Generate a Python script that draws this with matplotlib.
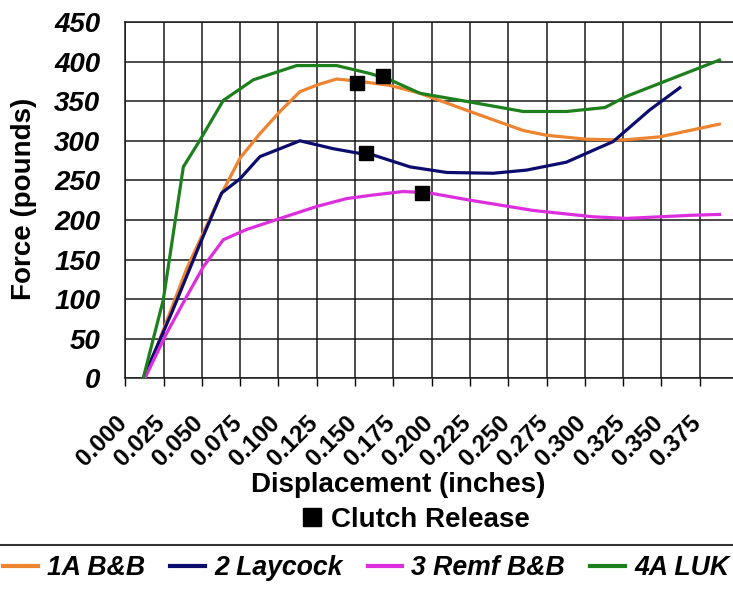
import numpy as np
import matplotlib
matplotlib.use("Agg")
import matplotlib.pyplot as plt
from matplotlib.lines import Line2D
from matplotlib.transforms import ScaledTranslation

plt.rcParams['font.family'] = ['Liberation Sans', 'DejaVu Sans']

# --- data (displacement in inches, force in pounds) ---
series_names = ["1A B&B", "2 Laycock", "3 Remf B&B", "4A LUK"]
series_colors = ["#EC8430", "#0C0C6E", "#DD2EDD", "#1D801D"]

x_1a = [0.0128, 0.040, 0.062, 0.0749, 0.0879, 0.101, 0.114, 0.126, 0.138, 0.1486,
        0.1532, 0.1728, 0.1924, 0.225, 0.2598, 0.275, 0.301, 0.325, 0.349, 0.3878]
y_1a = [0, 138, 230, 278, 309, 337, 362, 371, 378, 376,
        375, 370, 360, 337, 313, 307, 302, 301, 305, 321]

x_2 = [0.0117, 0.031, 0.0488, 0.0629, 0.0749, 0.0879, 0.114, 0.1358, 0.1532, 0.1619,
       0.186, 0.2098, 0.2402, 0.262, 0.288, 0.3055, 0.3185, 0.3424, 0.362]
y_2 = [0, 86, 170, 234, 252, 280, 300, 290, 284, 282,
       267, 260, 259, 263, 273, 288, 299, 339, 367]

x_3 = [0.0128, 0.027, 0.040, 0.051, 0.064, 0.0792, 0.1012, 0.1249, 0.1445, 0.1597,
       0.1815, 0.1989, 0.225, 0.2663, 0.3055, 0.3273, 0.3707, 0.3879]
y_3 = [0, 57, 103, 141, 175, 188, 202, 217, 227, 231,
       236, 234, 225, 212, 204, 202, 206, 207]

x_4a = [0.0117, 0.0248, 0.0379, 0.0488, 0.064, 0.0836, 0.1119, 0.138, 0.1597, 0.1728,
        0.1924, 0.225, 0.2598, 0.288, 0.3131, 0.327, 0.3879]
y_4a = [0, 99, 267, 301, 351, 377, 395, 395, 385, 377,
        360, 349, 337, 337, 342, 356, 402]

# clutch release points
release_x = [0.1514, 0.1684, 0.1569, 0.1935]
release_y = [373, 382, 285, 234]

x_ticks = np.arange(0, 0.376, 0.025)
y_ticks = np.arange(0, 451, 50)

fig = plt.figure(figsize=(7.33, 5.89), dpi=100)
ax = fig.add_axes([0.1709, 0.3577, 0.8359, 0.6049])

lines = []
for xs, ys, name, col in zip([x_1a, x_2, x_3, x_4a], [y_1a, y_2, y_3, y_4a],
                             series_names, series_colors):
    ln, = ax.plot(xs, ys, color=col, linewidth=2.3, label=name, zorder=3,
                  solid_joinstyle='round')
    lines.append(ln)

mk, = ax.plot(release_x, release_y, linestyle='none', marker='s', markersize=9.5,
              color='black', label='Clutch Release', zorder=4)

ax.set_xlim(0, 0.4)
ax.set_ylim(0, 450)
ax.set_xticks(list(x_ticks) + [0.4])
ax.set_xticklabels([f"{v:.3f}" for v in x_ticks] + [""], rotation=45,
                   ha='right', va='top', fontsize=17.5, fontweight='bold')
ax.set_yticks(y_ticks)
ax.set_yticklabels([str(v) for v in y_ticks], fontsize=20, fontweight='bold',
                   fontstyle='italic')
ax.tick_params(axis='x', length=6, width=1.0, color='black', pad=18)
ax.tick_params(axis='y', length=0, pad=18)
shift = ScaledTranslation(6 / 100, 0, fig.dpi_scale_trans)
for lab in ax.get_xticklabels():
    lab.set_transform(lab.get_transform() + shift)
ax.grid(True, color='#1a1a1a', linewidth=1.1)
ax.set_axisbelow(True)
for s in ax.spines.values():
    s.set_color('#1a1a1a')
    s.set_linewidth(1.1)

fig.text(24 / 733, 1 - 199 / 589, "Force (pounds)", rotation=90, ha='center',
         va='center', fontsize=20, fontweight='bold')
fig.text(398.5 / 733, 1 - 492 / 589, "Displacement (inches)", ha='center',
         va='baseline', fontsize=20, fontweight='bold')

leg1 = fig.legend(handles=[mk], loc='center', bbox_to_anchor=(416.7 / 733, 1 - 520 / 589),
                  frameon=False, markerscale=1.3, handlelength=0.62, handletextpad=0.36,
                  borderpad=0, borderaxespad=0, numpoints=1,
                  prop={'size': 20, 'weight': 'bold'})

# series legend: its box is wider than the picture, only the top edge shows
fig.add_artist(Line2D([0, 1], [1 - 545 / 589] * 2, transform=fig.transFigure,
                      color='#333333', linewidth=1.5))
leg2 = fig.legend(handles=lines, loc='center left', ncol=4,
                  bbox_to_anchor=(3 / 733, 1 - 568 / 589),
                  frameon=False, handlelength=1.3, handletextpad=0.34,
                  columnspacing=0.95, borderpad=0, borderaxespad=0,
                  prop={'size': 19.2, 'weight': 'bold', 'style': 'italic'})
for h in leg2.legend_handles:
    h.set_linewidth(3)

fig.savefig("out.png", dpi=100)
